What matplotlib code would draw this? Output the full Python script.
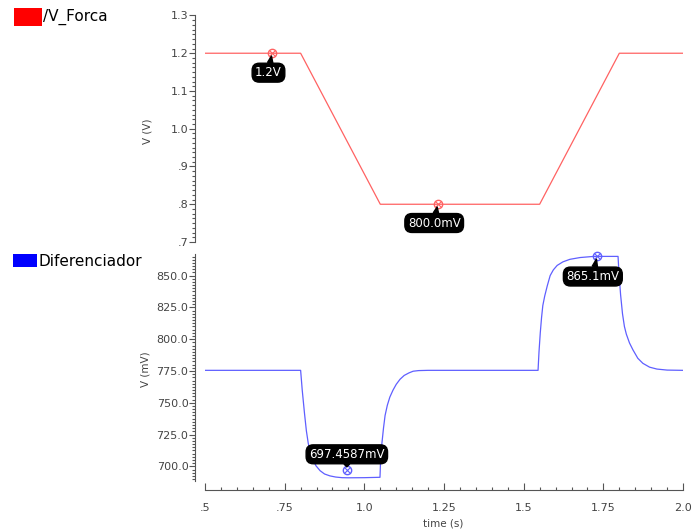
import matplotlib.pyplot as plt
from matplotlib.ticker import FixedLocator, AutoMinorLocator, MultipleLocator

# /V_Forca input (V)
t_forca = [0.5, 0.80, 1.05, 1.55, 1.80, 2.0]
v_forca = [1.2, 1.2, 0.8, 0.8, 1.2, 1.2]

# Diferenciador output (mV)
t_dif = [0.5, 0.80, 0.805, 0.812, 0.818, 0.824, 0.832, 0.839, 0.848, 0.861, 0.875,
         0.892, 0.91, 0.93, 0.95, 1.0, 1.049,
         1.051, 1.055, 1.060, 1.065, 1.072, 1.08, 1.09, 1.10, 1.112, 1.125, 1.14,
         1.153, 1.17, 1.2, 1.3, 1.545,
         1.548, 1.552, 1.556, 1.560, 1.566, 1.574, 1.583, 1.593, 1.605, 1.623,
         1.645, 1.677, 1.72, 1.796,
         1.799, 1.804, 1.810, 1.816, 1.822, 1.832, 1.843, 1.858, 1.874, 1.895,
         1.918, 1.95, 2.0]
v_dif = [775.5, 775.5, 760.0, 742.0, 728.0, 718.0, 710.0, 705.0, 700.5, 696.6, 694.0,
         692.5, 691.6, 691.1, 691.0, 691.1, 691.4,
         705.0, 718.0, 730.0, 740.0, 748.0, 754.5, 760.0, 764.5, 768.5, 771.5, 773.5,
         774.8, 775.3, 775.5, 775.5, 775.5,
         790.0, 805.0, 817.0, 826.5, 834.0, 842.0, 850.0, 854.5, 858.0, 860.8,
         862.8, 864.2, 865.1, 865.1,
         852.0, 835.0, 820.0, 810.0, 804.0, 797.0, 791.5, 785.0, 781.0, 778.0,
         776.5, 775.7, 775.5]

# marker readouts
mk_forca_t = [0.71, 1.23]
mk_forca_v = [1.2, 0.8]
mk_forca_txt = ["1.2V", "800.0mV"]
mk_dif_t = [0.945, 1.73]
mk_dif_v = [697.4587, 865.1]
mk_dif_txt = ["697.4587mV", "865.1mV"]

x_ticks = [0.5, 0.75, 1.0, 1.25, 1.5, 1.75, 2.0]
x_ticklabels = [".5", ".75", "1.0", "1.25", "1.5", "1.75", "2.0"]
top_ticks = [0.7, 0.8, 0.9, 1.0, 1.1, 1.2, 1.3]
top_ticklabels = [".7", ".8", ".9", "1.0", "1.1", "1.2", "1.3"]
bot_ticks = [700, 725, 750, 775, 800, 825, 850]
bot_ticklabels = ["700.0", "725.0", "750.0", "775.0", "800.0", "825.0", "850.0"]

RED = "#ff6262"
BLUE = "#5f5fff"
AX_COL = "#555555"
TXT_COL = "#444444"

plt.rcParams["font.family"] = "DejaVu Sans"

fig = plt.figure(figsize=(6.95, 5.32), dpi=100)
ax1 = fig.add_axes([0.295, 0.5451, 0.6878, 0.4258])
ax2 = fig.add_axes([0.295, 0.0959, 0.6878, 0.4267])


def style_axis(ax):
    for s in ["top", "right"]:
        ax.spines[s].set_visible(False)
    ax.spines["left"].set_position(("outward", 7))
    ax.spines["left"].set_color(AX_COL)
    ax.spines["bottom"].set_color(AX_COL)
    ax.tick_params(axis="y", which="major", direction="out", length=4, width=0.8,
                   color=AX_COL, labelsize=8, labelcolor=TXT_COL, pad=1)
    ax.tick_params(axis="y", which="minor", direction="out", length=2.5, width=0.8,
                   color=AX_COL)
    ax.set_xlim(0.5, 2.0)


def add_marker(ax, t, v, txt, color, dx, dy):
    ax.plot([t], [v], marker="o", ms=6, mfc="none", mec=color, mew=1.0, zorder=4,
            clip_on=False)
    ax.plot([t], [v], marker="x", ms=4, mec=color, mew=0.8, zorder=4, clip_on=False)
    ax.annotate(txt, xy=(t, v), xytext=(dx, dy), textcoords="offset points",
                ha="center", va="center", color="white", fontsize=8.5,
                bbox=dict(boxstyle="round,pad=0.25,rounding_size=0.6", fc="black", ec="black"),
                arrowprops=dict(arrowstyle="wedge,tail_width=0.45,shrink_factor=0.5",
                                fc="black", ec="black", shrinkA=0, shrinkB=2),
                zorder=5)


# top panel
style_axis(ax1)
ax1.spines["bottom"].set_visible(False)
ax1.set_xticks([])
ax1.plot(t_forca, v_forca, color=RED, lw=0.9)
ax1.set_ylim(0.7, 1.3)
ax1.yaxis.set_major_locator(FixedLocator(top_ticks))
ax1.set_yticklabels(top_ticklabels)
ax1.yaxis.set_minor_locator(MultipleLocator(0.0125))
add_marker(ax1, mk_forca_t[0], mk_forca_v[0], mk_forca_txt[0], RED, -2.5, -14)
add_marker(ax1, mk_forca_t[1], mk_forca_v[1], mk_forca_txt[1], RED, -2.5, -13.5)

# bottom panel
style_axis(ax2)
ax2.spines["bottom"].set_position(("outward", 6.5))
ax2.plot(t_dif, v_dif, color=BLUE, lw=0.9)
ax2.set_ylim(688.5, 867)
ax2.yaxis.set_major_locator(FixedLocator(bot_ticks))
ax2.set_yticklabels(bot_ticklabels)
ax2.yaxis.set_minor_locator(MultipleLocator(2.5))
ax2.set_xticks(x_ticks)
ax2.set_xticklabels(x_ticklabels)
ax2.xaxis.set_minor_locator(AutoMinorLocator(5))
ax2.tick_params(axis="x", which="major", direction="in", length=5, width=0.8,
                color=AX_COL, labelsize=8, labelcolor=TXT_COL, pad=9.5)
ax2.tick_params(axis="x", which="minor", direction="in", length=2.5, width=0.8,
                color=AX_COL)
add_marker(ax2, mk_dif_t[0], mk_dif_v[0], mk_dif_txt[0], BLUE, 0, 11)
add_marker(ax2, mk_dif_t[1], mk_dif_v[1], mk_dif_txt[1], BLUE, -3, -14.5)

# axis titles
fig.text(148 / 695, 1 - 131 / 532, "V (V)", rotation=90, ha="center", va="center",
         fontsize=7.5, color=TXT_COL)
fig.text(145 / 695, 1 - 369 / 532, "V (mV)", rotation=90, ha="center", va="center",
         fontsize=7.5, color=TXT_COL)
fig.text(443 / 695, 1 - 523 / 532, "time (s)", ha="center", va="center",
         fontsize=7.5, color=TXT_COL)

# trace legends
fig.patches.append(plt.Rectangle((14 / 695, 1 - 26 / 532), 28 / 695, 18 / 532,
                                 transform=fig.transFigure, fc="red", ec="none"))
fig.text(43 / 695, 1 - 17 / 532, "/V_Forca", ha="left", va="center", fontsize=11)
fig.patches.append(plt.Rectangle((13 / 695, 1 - 267 / 532), 24 / 695, 13 / 532,
                                 transform=fig.transFigure, fc="blue", ec="none"))
fig.text(38 / 695, 1 - 261 / 532, "Diferenciador", ha="left", va="center", fontsize=11)

fig.savefig("out.png", dpi=100)
